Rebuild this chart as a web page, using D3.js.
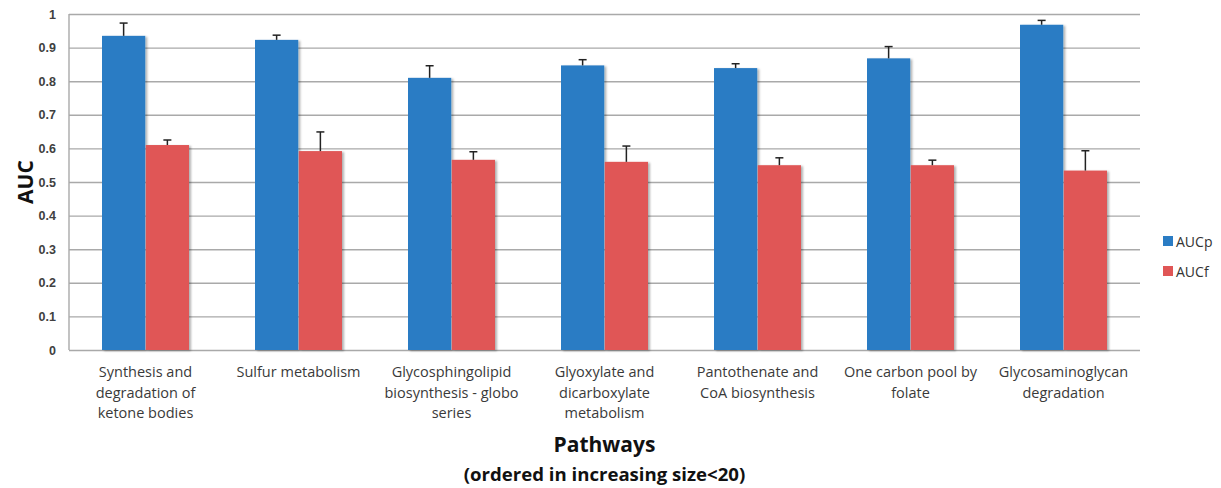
<!DOCTYPE html>
<html>
<head>
<meta charset="utf-8">
<script src="https://cdn.jsdelivr.net/npm/d3@7"></script>
<style>
  html, body { margin: 0; padding: 0; background: #fff; }
  svg { display: block; font-family: "Open Sans", "Lato", sans-serif; }
</style>
</head>
<body>
<svg id="chart" width="1221" height="488"></svg>
<script>
// ---- data ----
const categories = [
  ["Synthesis and", "degradation of", "ketone bodies"],
  ["Sulfur metabolism"],
  ["Glycosphingolipid", "biosynthesis - globo", "series"],
  ["Glyoxylate and", "dicarboxylate", "metabolism"],
  ["Pantothenate and", "CoA biosynthesis"],
  ["One carbon pool  by", "folate"],
  ["Glycosaminoglycan", "degradation"]
];
const seriesNames = ["AUCp", "AUCf"];
const aucp    = [0.935, 0.923, 0.810, 0.847, 0.839, 0.868, 0.968];
const aucpErr = [0.038, 0.014, 0.036, 0.017, 0.013, 0.035, 0.013];
const aucf    = [0.610, 0.592, 0.566, 0.560, 0.550, 0.550, 0.534];
const aucfErr = [0.015, 0.057, 0.024, 0.047, 0.022, 0.015, 0.059];
const yTicks = [0, 0.1, 0.2, 0.3, 0.4, 0.5, 0.6, 0.7, 0.8, 0.9, 1];
const yTickLabels = ["0", "0.1", "0.2", "0.3", "0.4", "0.5", "0.6", "0.7", "0.8", "0.9", "1"];
const xTitle = "Pathways";
const xSubtitle = "(ordered in increasing size<20)";
const yTitle = "AUC";

(function () {
// ---- layout ----
const colors = ["#2a7cc4", "#e05656"];
const pL = 69, pR = 1140, pT = 14, pB = 350;
const svg = d3.select("#chart");

const defs = svg.append("defs");
const f = defs.append("filter").attr("id", "shadow").attr("x", "-10%").attr("y", "-10%").attr("width", "130%").attr("height", "120%");
f.append("feDropShadow").attr("dx", 2).attr("dy", 1).attr("stdDeviation", 1).attr("flood-color", "#000").attr("flood-opacity", 0.3);

const idx = d3.range(categories.length);
const x = d3.scaleBand().domain(idx).range([pL, pR]).padding(0);
const step = x.bandwidth();
const xs = d3.scaleBand().domain([0, 1]).range([step * 0.2157, step * 0.7843]).paddingInner(0.012);
const y = d3.scaleLinear().domain([0, 1]).range([pB, pT]);

// gridlines
const yAxis = d3.axisLeft(y).tickValues(yTicks).tickSize(-(pR - pL)).tickFormat((d, i) => yTickLabels[i]).tickPadding(13);
const gy = svg.append("g").attr("transform", `translate(${pL},0)`).call(yAxis);
gy.select(".domain").remove();
gy.selectAll(".tick line").attr("stroke", "#a9a9a9").attr("stroke-width", 1.4);
gy.selectAll(".tick text").attr("fill", "#404040").attr("font-size", 12.5).attr("font-weight", 600);
// left axis line
svg.append("line").attr("x1", pL).attr("x2", pL).attr("y1", pT).attr("y2", pB).attr("stroke", "#a9a9a9").attr("stroke-width", 1.4);

const series = [
  { name: seriesNames[0], vals: aucp, err: aucpErr },
  { name: seriesNames[1], vals: aucf, err: aucfErr }
];

const groups = svg.append("g").selectAll("g").data(idx).join("g")
  .attr("transform", d => `translate(${x(d)},0)`);

series.forEach((s, si) => {
  groups.append("rect")
    .attr("x", xs(si))
    .attr("width", xs.bandwidth())
    .attr("y", d => y(s.vals[d]))
    .attr("height", d => y(0) - y(s.vals[d]))
    .attr("fill", colors[si])
    .attr("filter", "url(#shadow)");
});

// error bars (plus only)
series.forEach((s, si) => {
  const cx = xs(si) + xs.bandwidth() / 2;
  groups.append("line")
    .attr("x1", cx).attr("x2", cx)
    .attr("y1", d => y(s.vals[d]))
    .attr("y2", d => y(s.vals[d] + s.err[d]))
    .attr("stroke", "#222").attr("stroke-width", 1.5);
  groups.append("line")
    .attr("x1", cx - 4).attr("x2", cx + 4)
    .attr("y1", d => y(s.vals[d] + s.err[d]))
    .attr("y2", d => y(s.vals[d] + s.err[d]))
    .attr("stroke", "#222").attr("stroke-width", 1.5);
});

// x category labels
const lbl = svg.append("g").selectAll("text").data(idx).join("text")
  .attr("x", d => x(d) + step / 2)
  .attr("y", 377)
  .attr("text-anchor", "middle")
  .attr("fill", "#3a3a3a")
  .attr("font-size", 14.5);
lbl.each(function(d) {
  const t = d3.select(this);
  categories[d].forEach((line, li) => {
    t.append("tspan").attr("x", x(d) + step / 2).attr("dy", li === 0 ? 0 : 20.5).text(line);
  });
});

// axis titles
svg.append("text").attr("x", (pL + pR) / 2).attr("y", 452).attr("text-anchor", "middle")
  .attr("font-size", 21).attr("font-weight", 700).attr("fill", "#111").text(xTitle);
svg.append("text").attr("x", (pL + pR) / 2).attr("y", 481).attr("text-anchor", "middle")
  .attr("font-size", 18.6).attr("font-weight", 700).attr("fill", "#111").text(xSubtitle);
svg.append("text").attr("transform", `translate(33,${(pT + pB) / 2}) rotate(-90)`).attr("text-anchor", "middle")
  .attr("font-size", 21).attr("font-weight", 700).attr("fill", "#111").text(yTitle);

// legend
const leg = svg.append("g").selectAll("g").data(series).join("g")
  .attr("transform", (d, i) => `translate(1163,${236 + i * 30})`);
leg.append("rect").attr("width", 10).attr("height", 10).attr("fill", (d, i) => colors[i]);
leg.append("text").attr("x", 13).attr("y", 10.5).attr("font-size", 14).attr("fill", "#333").text(d => d.name);
})();
</script>
</body>
</html>
